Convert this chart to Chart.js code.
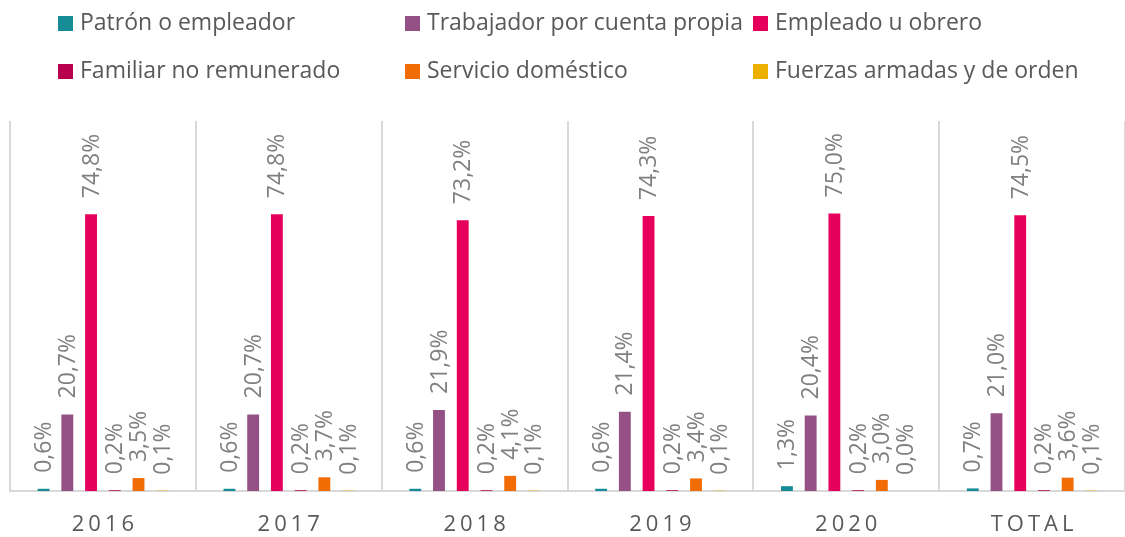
<!DOCTYPE html>
<html>
<head>
<meta charset="utf-8">
<script src="https://cdn.jsdelivr.net/npm/chart.js@4"></script>
<style>
  html, body { margin: 0; padding: 0; background: #fff; }
  #wrap { width: 1125px; height: 537px; }
</style>
</head>
<body>
<div id="wrap"><canvas id="chart"></canvas></div>
<script>
const years = ["2016", "2017", "2018", "2019", "2020", "TOTAL"];
const patron = [0.6, 0.6, 0.6, 0.6, 1.3, 0.7];
const cuentaPropia = [20.7, 20.7, 21.9, 21.4, 20.4, 21.0];
const empleado = [74.8, 74.8, 73.2, 74.3, 75.0, 74.5];
const familiar = [0.2, 0.2, 0.2, 0.2, 0.2, 0.2];
const domestico = [3.5, 3.7, 4.1, 3.4, 3.0, 3.6];
const fuerzas = [0.1, 0.1, 0.1, 0.1, 0.0, 0.1];

const FONT = "'Open Sans', sans-serif";

// rotated value labels above each bar
const valueLabels = {
  id: "valueLabels",
  afterDatasetsDraw(chart) {
    const ctx = chart.ctx;
    ctx.save();
    ctx.font = "23px " + FONT;
    ctx.fillStyle = "#808080";
    ctx.textAlign = "left";
    ctx.textBaseline = "middle";
    chart.data.datasets.forEach((ds, i) => {
      chart.getDatasetMeta(i).data.forEach((bar, j) => {
        const txt = ds.data[j].toFixed(1).replace(".", ",") + "%";
        ctx.save();
        ctx.translate(bar.x, bar.y - 16);
        ctx.rotate(-Math.PI / 2);
        ctx.fillText(txt, 0, 1);
        ctx.restore();
      });
    });
    ctx.restore();
  }
};

// legend in three aligned columns, plus spaced x labels
const layoutExtras = {
  id: "layoutExtras",
  afterDraw(chart) {
    const ctx = chart.ctx;
    ctx.save();
    const cols = [58, 405, 753];
    const rows = [23.5, 71.5];
    ctx.font = "23px " + FONT;
    ctx.textBaseline = "middle";
    ctx.textAlign = "left";
    chart.data.datasets.forEach((ds, i) => {
      const x = cols[i % 3], y = rows[Math.floor(i / 3)];
      ctx.fillStyle = ds.backgroundColor;
      ctx.fillRect(x, y - 7.5, 15, 15);
      ctx.fillStyle = "#595959";
      ctx.fillText(ds.label, x + 22, y);
    });

    ctx.font = "22px " + FONT;
    const xs = chart.scales.x;
    ctx.letterSpacing = "4px";
    ctx.textAlign = "center";
    chart.data.labels.forEach((lab, i) => {
      ctx.fillText(lab, xs.getPixelForTick(i) + 2, 525);
    });
    ctx.restore();
  }
};

new Chart(document.getElementById("chart"), {
  type: "bar",
  data: {
    labels: years,
    datasets: [
      { label: "Patrón o empleador", data: patron, backgroundColor: "#168C96" },
      { label: "Trabajador por cuenta propia", data: cuentaPropia, backgroundColor: "#955086" },
      { label: "Empleado u obrero", data: empleado, backgroundColor: "#E6005C" },
      { label: "Familiar no remunerado", data: familiar, backgroundColor: "#B8004F" },
      { label: "Servicio doméstico", data: domestico, backgroundColor: "#F26C05" },
      { label: "Fuerzas armadas y de orden", data: fuerzas, backgroundColor: "#EBB000" }
    ]
  },
  options: {
    responsive: true,
    maintainAspectRatio: false,
    animation: false,
    barPercentage: 0.5,
    categoryPercentage: 0.766,
    layout: { padding: { left: 10, right: -4, top: 121, bottom: 0 } },
    plugins: {
      legend: { display: false },
      tooltip: { enabled: false }
    },
    scales: {
      x: {
        z: 1,
        grid: { color: "#D9D9D9", lineWidth: 2, drawTicks: false },
        border: { color: "#D9D9D9", width: 2 },
        ticks: { color: "rgba(0,0,0,0)", font: { size: 22, family: FONT } },
        afterFit: s => { s.height = 46; }
      },
      y: {
        display: false,
        min: 0,
        max: 100
      }
    }
  },
  plugins: [valueLabels, layoutExtras]
});
</script>
</body>
</html>
